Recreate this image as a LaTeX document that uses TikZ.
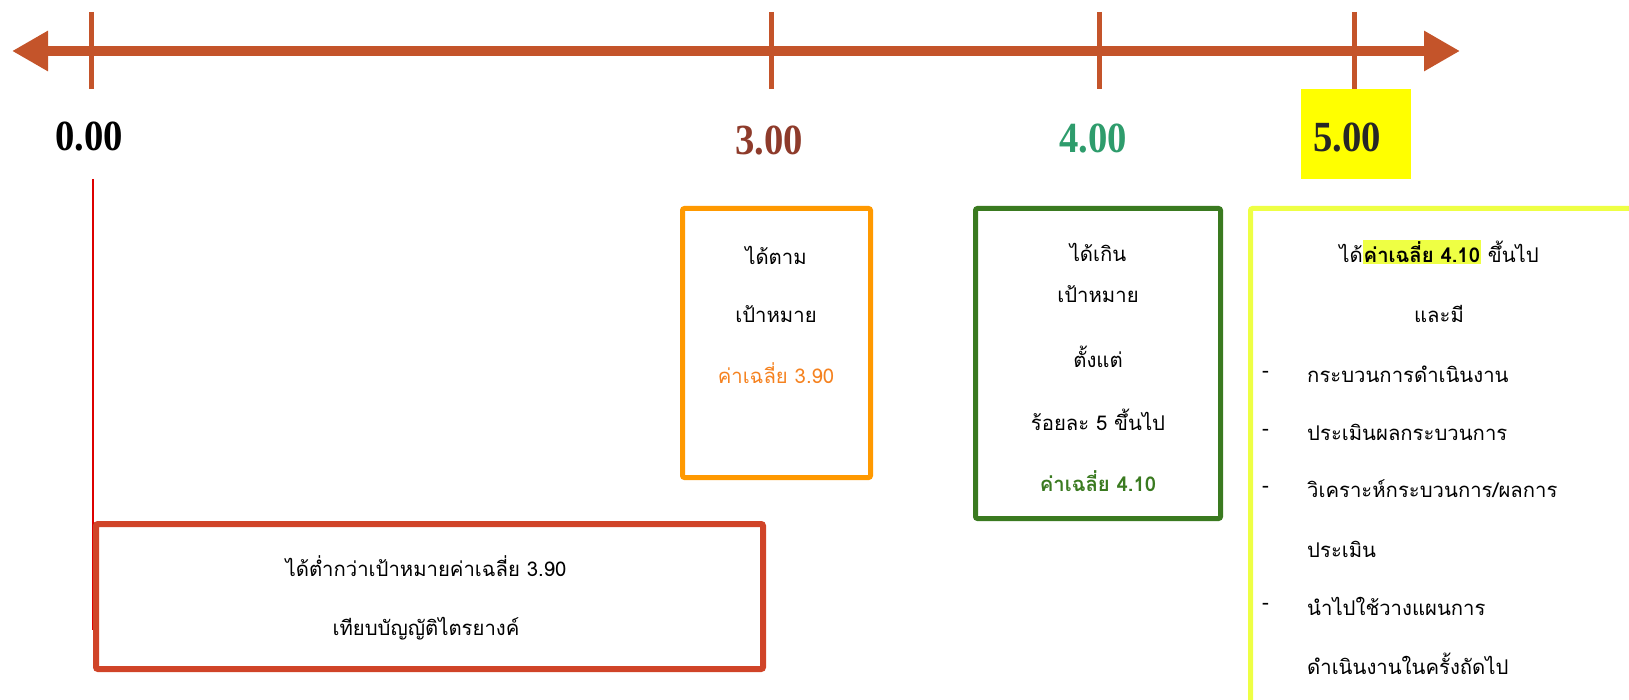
\documentclass[tikz,border=0pt]{standalone}
\usepackage{fontspec}
\setmainfont{Liberation Serif}
\newfontfamily\thai[Script=Thai]{Loma}
\usetikzlibrary{arrows.meta}
\definecolor{axisc}{HTML}{C4542A}
\definecolor{threec}{HTML}{8E3B2B}
\definecolor{fourc}{HTML}{2E9C6C}
\definecolor{fivebg}{HTML}{FFFF00}
\definecolor{orangec}{HTML}{FF9900}
\definecolor{orangetxt}{HTML}{F58220}
\definecolor{greenc}{HTML}{3A7A20}
\definecolor{yellowc}{HTML}{EEFF44}
\definecolor{hlc}{HTML}{EEFF44}
\definecolor{redc}{HTML}{D04428}
\definecolor{redline}{HTML}{DD0000}
\tikzset{
  tick/.style={draw=axisc, line width=5pt},
  numlbl/.style={font=\fontsize{43}{46}\selectfont\bfseries, xscale=0.9, inner sep=0pt},
  boxc/.style={draw, line width=5pt, rounded corners=2pt, inner sep=0pt},
  thtxt/.style={font=\thai\fontsize{20.3}{24}\selectfont, inner sep=0pt},
  thlist/.style={thtxt, anchor=west},
}
\begin{document}
\begin{tikzpicture}[x=1pt,y=-1pt]
\useasboundingbox (0,0) rectangle (1629,700);
\clip (0,0) rectangle (1629,700);
% axis
\coordinate (L) at (12,51);
\coordinate (R) at (1460,51);
\draw[axisc, line width=10pt, {Triangle[length=36pt,width=38pt]}-{Triangle[length=36pt,width=38pt]}] (L) -- (R);
\coordinate (t0a) at (91.5,12); \coordinate (t0b) at (91.5,89);
\coordinate (t3a) at (771,12); \coordinate (t3b) at (771,89);
\coordinate (t4a) at (1099,12); \coordinate (t4b) at (1099,89);
% 5.00 label background
\node[fill=fivebg, minimum width=110pt, minimum height=90pt, inner sep=0pt] (fivebox) at (1356,134) {};
\coordinate (t5a) at (1354,12); \coordinate (t5b) at (1354,89);
\draw[tick] (t0a) -- (t0b);
\draw[tick] (t3a) -- (t3b);
\draw[tick] (t4a) -- (t4b);
\draw[tick] (t5a) -- (t5b);
\node[numlbl, text=black] (n0) at (89,137) {0.00};
\node[numlbl, text=threec] (n3) at (769,141) {3.00};
\node[numlbl, text=fourc] (n4) at (1093,139) {4.00};
\node[numlbl, text=black!85] (n5) at (1347,138) {5.00};
% red vertical line
\coordinate (rl) at (93,630);
\draw[redline, line width=1.5pt] (93,179) -- (rl);
% boxes
\node[boxc, draw=orangec, minimum width=188pt, minimum height=269pt] (obox) at (776.5,343) {};
\node[boxc, draw=greenc, minimum width=245pt, minimum height=310pt] (gbox) at (1098,363.5) {};
\node[boxc, draw=redc, line width=6pt, minimum width=667pt, minimum height=145pt] (rbox) at (429.5,596.5) {};
\node[boxc, draw=yellowc, minimum width=500pt, minimum height=600pt, anchor=north west] (ybox) at (1248,206) {};
% orange texts
\node[thtxt] (o1) at (776,255) {ได้ตาม};
\node[thtxt] (o2) at (776,314) {เป้าหมาย};
\node[thtxt, text=orangetxt] (o3) at (776,373) {ค่าเฉลี่ย 3.90};
% green texts
\node[thtxt] (g1) at (1098,252) {ได้เกิน};
\node[thtxt] (g2) at (1098,294) {เป้าหมาย};
\node[thtxt] (g3) at (1098,357) {ตั้งแต่};
\node[thtxt] (g4) at (1098,420) {ร้อยละ 5 ขึ้นไป};
\node[thtxt, text=greenc, font=\thai\fontsize{20.3}{24}\selectfont\bfseries] (g5) at (1098,481) {ค่าเฉลี่ย 4.10};
% yellow texts
\node[thtxt] (y1) at (1439,252) {ได้{\setlength{\fboxsep}{1pt}\colorbox{hlc}{\bfseries ค่าเฉลี่ย 4.10}} ขึ้นไป};
\node[thtxt] (y2) at (1439,314) {และมี};
\node[thlist] (d1) at (1262,374) {-};
\node[thlist] (l1) at (1307,374) {กระบวนการดำเนินงาน};
\node[thlist] (d2) at (1262,432) {-};
\node[thlist] (l2) at (1307,432) {ประเมินผลกระบวนการ};
\node[thlist] (d3) at (1262,489) {-};
\node[thlist] (l3) at (1307,489) {วิเคราะห์กระบวนการ/ผลการ};
\node[thlist] (l4) at (1307,549) {ประเมิน};
\node[thlist] (d5) at (1262,606) {-};
\node[thlist] (l5) at (1307,606) {นำไปใช้วางแผนการ};
\node[thlist] (l6) at (1307,664) {ดำเนินงานในครั้งถัดไป};
% red texts
\node[thtxt] (r1) at (426,566) {ได้ต่ำกว่าเป้าหมายค่าเฉลี่ย 3.90};
\node[thtxt] (r2) at (426,629) {เทียบบัญญัติไตรยางค์};
\end{tikzpicture}
\end{document}
